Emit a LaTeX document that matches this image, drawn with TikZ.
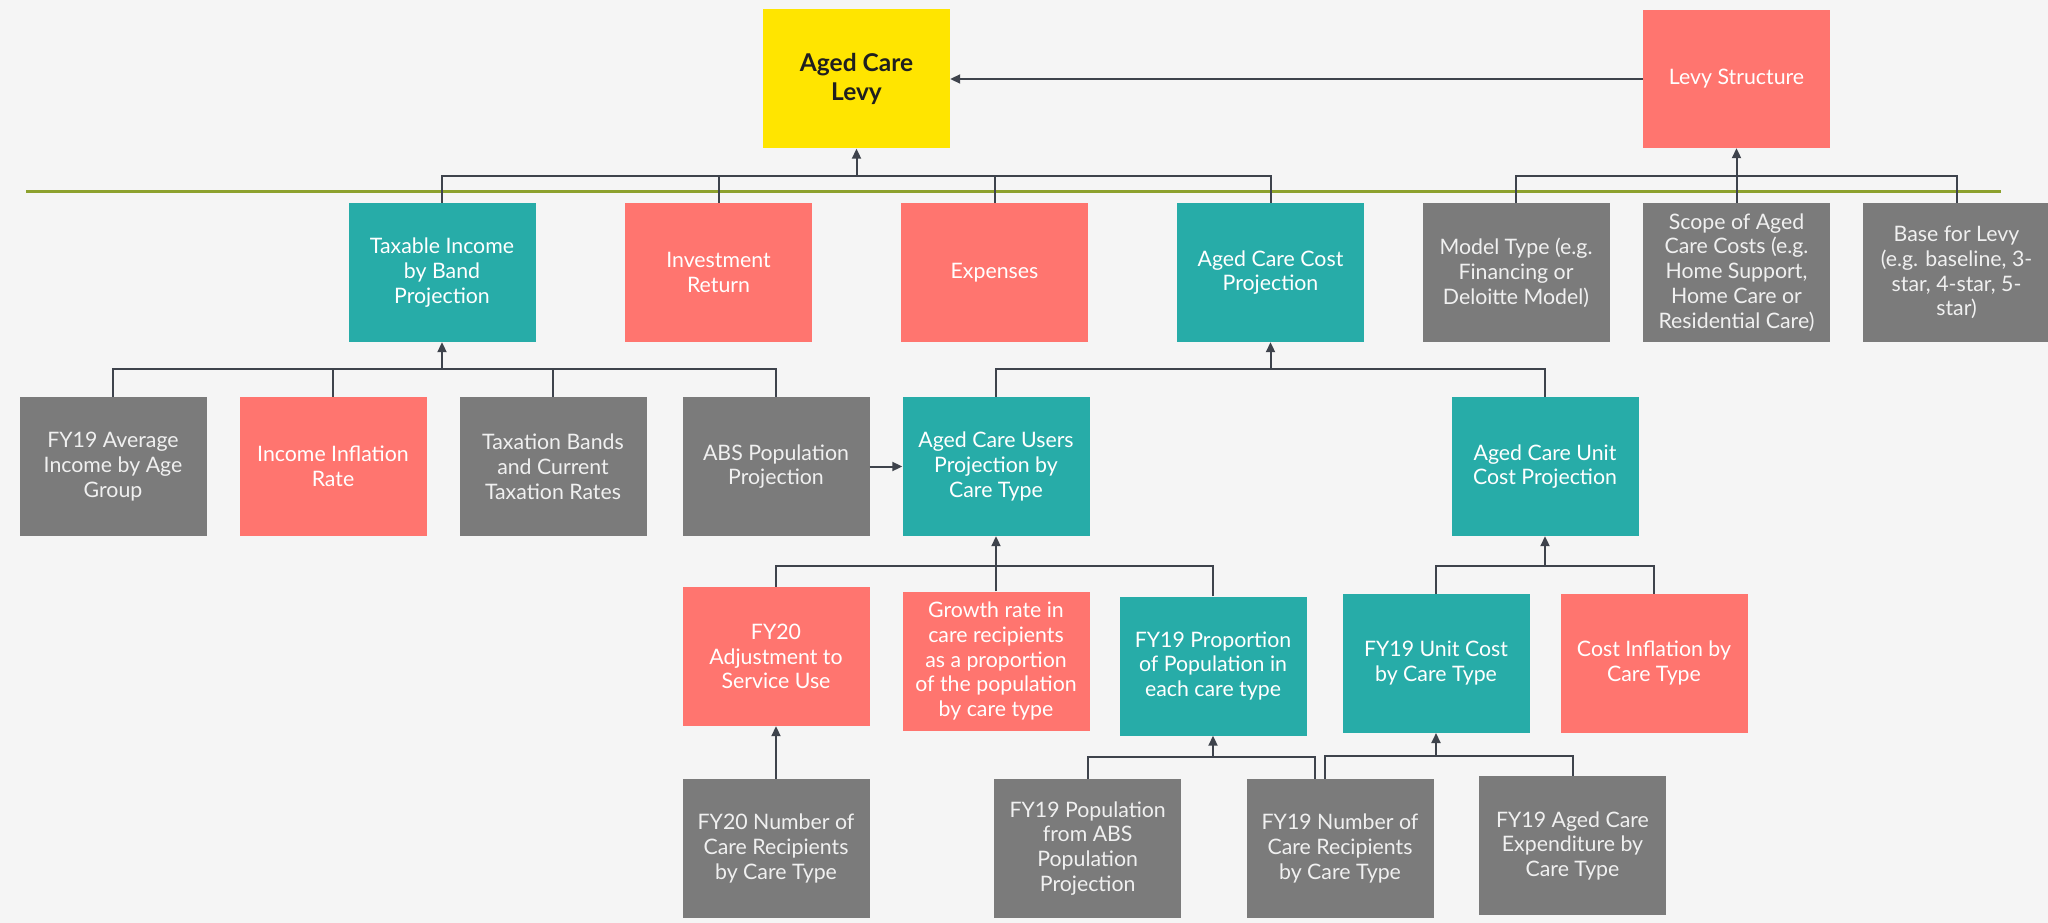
\documentclass[tikz,border=0pt]{standalone}
\usepackage{fontspec}
\setmainfont{Lato}
\usetikzlibrary{arrows.meta}
\definecolor{bg}{HTML}{F5F5F5}
\definecolor{yel}{HTML}{FFE500}
\definecolor{sal}{HTML}{FF756F}
\definecolor{tealbox}{HTML}{27ACA8}
\definecolor{gry}{HTML}{7B7B7B}
\definecolor{olivebar}{HTML}{8DA12E}
\definecolor{ln}{HTML}{3E434C}
\begin{document}
\begin{tikzpicture}[x=1pt,y=-1pt,
  box/.style={minimum width=187pt,minimum height=139pt,inner sep=0pt,align=center,text=white,
    font=\fontsize{21.3pt}{24.8pt}\selectfont},
  tbox/.style={box,fill=tealbox},
  sbox/.style={box,fill=sal},
  gbox/.style={box,fill=gry,text=white!94!black},
  conn/.style={draw=ln,line width=2pt},
  arr/.style={conn,-{Triangle[length=10pt,width=9pt]}}]
\fill[bg] (0,0) rectangle (2048,923);
\useasboundingbox (0,0) rectangle (2048,923);
% green divider
\coordinate (gl) at (26,191.7);
\coordinate (gr) at (2001,191.7);
\draw[olivebar,line width=3.2pt] (gl) -- (gr);
% top row
\node[box,fill=yel,text=black!88,font=\bfseries\fontsize{24.5pt}{28.5pt}\selectfont] (acl) at (856.5,79) {Aged Care\\Levy};
\node[sbox,minimum height=138pt] (levy) at (1736.5,79) {Levy Structure};
% second row
\node[tbox] (tax) at (442,272.5) {Taxable Income\\by Band\\Projection};
\node[sbox] (inv) at (718.5,272.5) {Investment\\Return};
\node[sbox] (exp) at (994.5,272.5) {Expenses};
\node[tbox] (acc) at (1270.5,272.5) {Aged Care Cost\\Projection};
\node[gbox] (model) at (1516,272.5) {Model Type (e.g.\\Financing or\\Deloitte Model)};
\node[gbox] (scope) at (1736.5,272.5) {Scope of Aged\\Care Costs (e.g.\\Home Support,\\Home Care or\\Residential Care)};
\node[gbox] (base) at (1956.5,272.5) {Base for Levy\\(e.g. baseline, 3-\\star, 4-star, 5-\\star)};
% third row
\node[gbox] (avg) at (113,466.5) {FY19 Average\\Income by Age\\Group};
\node[sbox] (iir) at (333,466.5) {Income Inflation\\Rate};
\node[gbox] (taxb) at (553,466.5) {Taxation Bands\\and Current\\Taxation Rates};
\node[gbox] (abs) at (776,466.5) {ABS Population\\Projection};
\node[tbox] (acu) at (996,466.5) {Aged Care Users\\Projection by\\Care Type};
\node[tbox] (acucp) at (1545,466.5) {Aged Care Unit\\Cost Projection};
% fourth row
\node[sbox] (adj) at (776,656.5) {FY20\\Adjustment to\\Service Use};
\node[sbox] (growth) at (996,661) {Growth rate in\\care recipients\\as a proportion\\of the population\\by care type};
\node[tbox] (prop) at (1213,666) {FY19 Proportion\\of Population in\\each care type};
\node[tbox] (unit) at (1436,663.3) {FY19 Unit Cost\\by Care Type};
\node[sbox] (cinf) at (1654,663.3) {Cost Inflation by\\Care Type};
% fifth row
\node[gbox] (num20) at (776,848.5) {FY20 Number of\\Care Recipients\\by Care Type};
\node[gbox] (pop19) at (1087.7,848.4) {FY19 Population\\from ABS\\Population\\Projection};
\node[gbox] (num19) at (1340,848.5) {FY19 Number of\\Care Recipients\\by Care Type};
\node[gbox] (exp19) at (1572.5,845.8) {FY19 Aged Care\\Expenditure by\\Care Type};
% bus junctions
\coordinate (b1) at (856.5,175.7);
\coordinate (b2) at (1736.5,175.7);
\coordinate (b3) at (442,369.3);
\coordinate (b4) at (1270.5,369.3);
\coordinate (b5) at (996,566);
\coordinate (b6) at (1545,565.5);
\coordinate (b7) at (1213,757);
\coordinate (b8) at (1436,755.5);
% connectors
\foreach \n in {tax,inv,exp,acc} \draw[conn] (\n.north) |- (b1);
\draw[arr] (b1) -- (acl.south);
\foreach \n in {model,scope,base} \draw[conn] (\n.north) |- (b2);
\draw[arr] (b2) -- (levy.south);
\draw[arr] (levy.west) -- (acl.east);
\foreach \n in {avg,iir,taxb,abs} \draw[conn] (\n.north) |- (b3);
\draw[arr] (b3) -- (tax.south);
\foreach \n in {acu,acucp} \draw[conn] (\n.north) |- (b4);
\draw[arr] (b4) -- (acc.south);
\draw[arr] (abs.east) -- (acu.west);
\foreach \n in {adj,growth,prop} \draw[conn] (\n.north) |- (b5);
\draw[arr] (b5) -- (acu.south);
\foreach \n in {unit,cinf} \draw[conn] (\n.north) |- (b6);
\draw[arr] (b6) -- (acucp.south);
\draw[arr] (num20.north) -- (adj.south);
\draw[conn] (pop19.north) |- (b7);
\draw[conn] ([xshift=-25pt]num19.north) |- (b7);
\draw[arr] (b7) -- (prop.south);
\draw[conn] ([xshift=-15pt]num19.north) |- (b8);
\draw[conn] (exp19.north) |- (b8);
\draw[arr] (b8) -- (unit.south);
\end{tikzpicture}
\end{document}
